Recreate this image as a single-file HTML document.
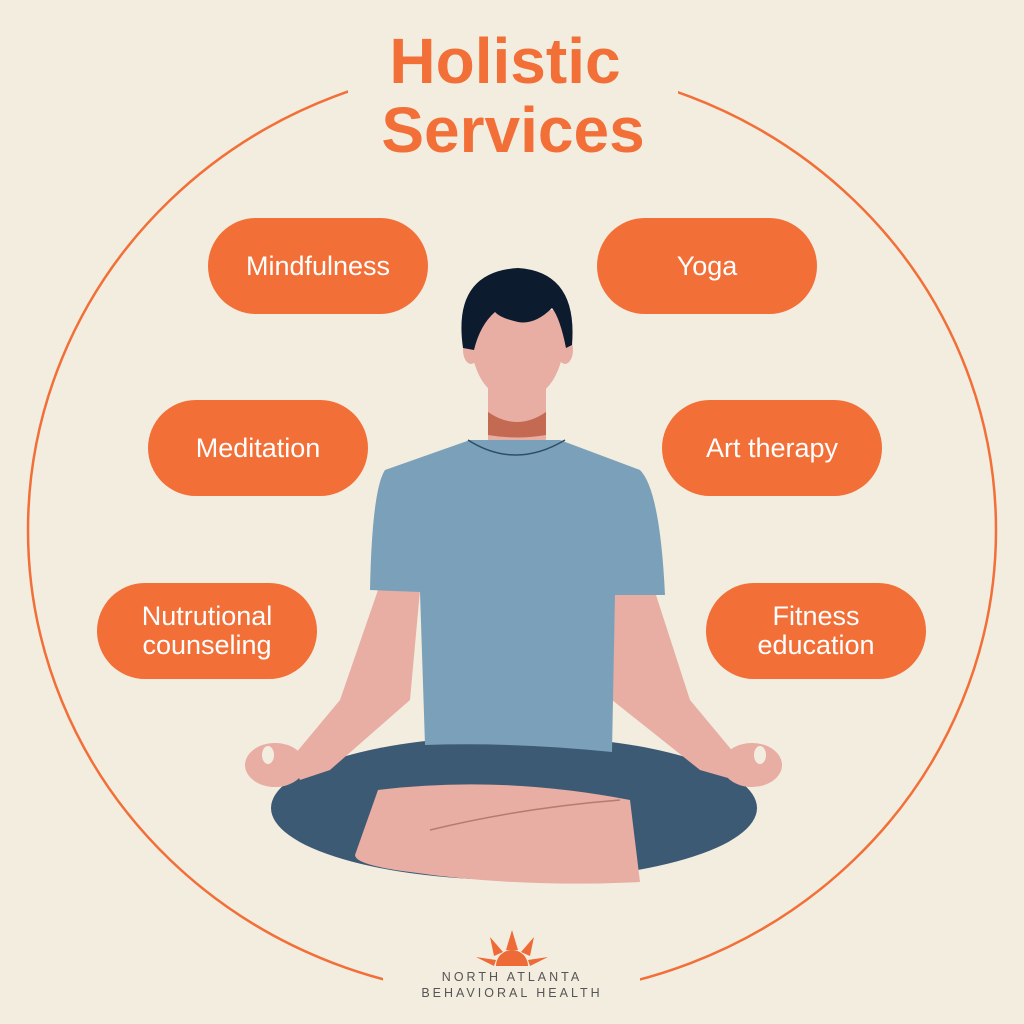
<!DOCTYPE html>
<html><head><meta charset="utf-8"><style>
html,body{margin:0;padding:0;background:#f3ede0;}
.w{position:relative;width:1024px;height:1024px;overflow:hidden;font-family:"Liberation Sans",sans-serif;}
.pill{position:absolute;width:220px;height:96px;border-radius:48px;background:#f26f38;color:#fff;font-size:27px;display:flex;align-items:center;justify-content:center;text-align:center;line-height:29px;}
.t{position:absolute;left:0;width:1024px;text-align:center;color:#f26f38;font-weight:bold;font-size:64px;}
.lg{position:absolute;left:0;width:1024px;text-align:center;color:#555;font-size:12.5px;letter-spacing:3px;}
</style></head><body><div class="w">
<svg width="1024" height="1024" style="position:absolute;left:0;top:0">
<ellipse cx="512" cy="530" rx="484" ry="466" fill="none" stroke="#f26f38" stroke-width="2.5"/>
<rect x="348" y="30" width="330" height="130" fill="#f3ede0"/>
<rect x="383" y="925" width="257" height="99" fill="#f3ede0"/>
<ellipse cx="514" cy="808" rx="243" ry="72" fill="#3d5a75"/>
<path d="M378 790 Q500 775 630 800 L640 882 Q520 888 410 872 Q355 865 355 855 Z" fill="#e8ada3"/>
<path d="M430 830 Q520 808 620 800" stroke="#b77a6e" stroke-width="1.5" fill="none"/>
<path d="M378 590 L420 590 L410 700 L330 770 L300 780 L290 760 L340 700 Z" fill="#e8ada3"/>
<path d="M612 595 L656 595 L690 700 L740 760 L735 780 L700 770 L612 700 Z" fill="#e8ada3"/>
<ellipse cx="275" cy="765" rx="30" ry="22" fill="#e8ada3"/>
<ellipse cx="752" cy="765" rx="30" ry="22" fill="#e8ada3"/>
<ellipse cx="268" cy="755" rx="6" ry="9" fill="#f3ede0"/>
<ellipse cx="760" cy="755" rx="6" ry="9" fill="#f3ede0"/>
<path d="M470 440 L560 440 L640 470 Q660 490 665 595 L615 595 L612 752 Q515 742 425 745 L420 592 L370 590 Q372 490 385 470 Z" fill="#7ba1ba"/>
<path d="M468 440 Q515 470 565 440" stroke="#2e4e66" stroke-width="1.5" fill="none"/>
<rect x="488" y="385" width="58" height="55" fill="#e8ada3"/>
<path d="M488 412 Q517 432 546 412 L546 435 Q517 440 488 435 Z" fill="#c46a52"/>
<ellipse cx="471" cy="350" rx="8" ry="14" fill="#e8ada3"/>
<ellipse cx="565" cy="350" rx="8" ry="14" fill="#e8ada3"/>
<path d="M468 310 Q468 400 517 400 Q567 400 567 310 Z" fill="#e8ada3"/>
<path d="M463 348 Q452 272 518 268 Q578 272 572 345 L566 348 Q560 318 552 308 Q535 325 518 322 Q500 318 495 312 Q480 325 474 350 Z" fill="#0c1b2e"/>
<g fill="#ee6a36">
<polygon points="512,930 518,950 506,950"/>
<polygon points="490,937 503,952 494,956"/>
<polygon points="534,937 530,956 521,952"/>
<polygon points="476,957 496,960 494,966"/>
<polygon points="548,957 530,966 528,960"/>
<path d="M496 966 A16 16 0 0 1 528 966 Z"/>
</g>
</svg>
<div class="t" style="top:24px;left:-7px">Holistic</div>
<div class="t" style="top:93px;left:1px">Services</div>
<div class="pill" style="left:208px;top:218px">Mindfulness</div>
<div class="pill" style="left:597px;top:218px">Yoga</div>
<div class="pill" style="left:148px;top:400px">Meditation</div>
<div class="pill" style="left:662px;top:400px">Art therapy</div>
<div class="pill" style="left:97px;top:583px">Nutrutional<br>counseling</div>
<div class="pill" style="left:706px;top:583px">Fitness<br>education</div>
<div class="lg" style="top:970px">NORTH ATLANTA</div>
<div class="lg" style="top:986px">BEHAVIORAL HEALTH</div>
</div></body></html>
